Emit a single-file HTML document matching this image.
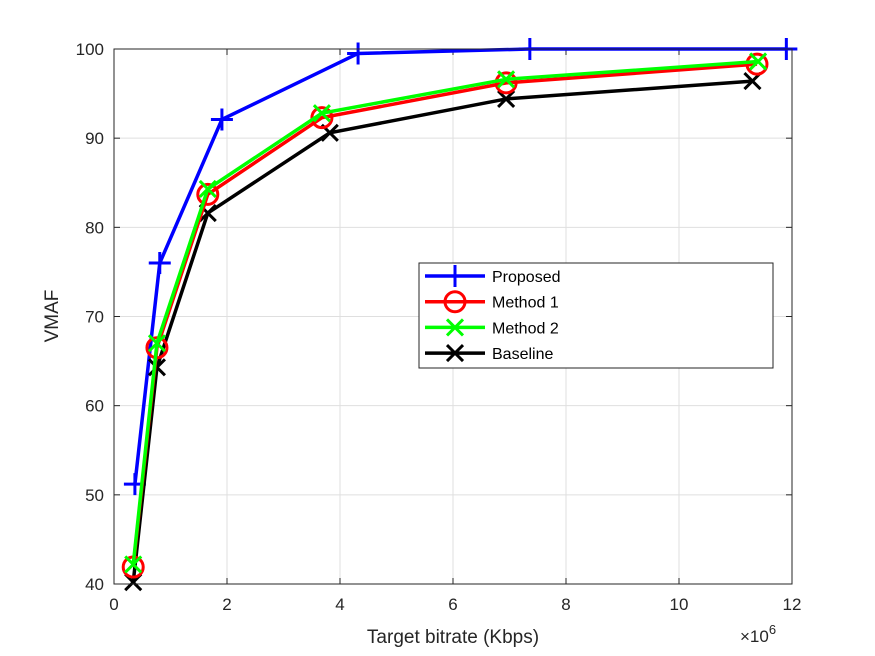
<!DOCTYPE html>
<html><head><meta charset="utf-8"><style>
body{margin:0;background:#fff;}
svg{display:block;font-family:"Liberation Sans",sans-serif;}
</style></head><body>
<svg id="chart" width="875" height="656">
<rect x="0" y="0" width="875" height="656" fill="#fff"/>
<g id="grid"></g>
<g id="ticks"></g>
<g id="series"></g>
<rect x="114" y="49" width="678" height="535" fill="none" stroke="#262626" stroke-width="1"/>
<text x="453" y="643" font-size="19" fill="#262626" text-anchor="middle">Target bitrate (Kbps)</text>
<text transform="translate(58,316) rotate(-90)" font-size="19" fill="#262626" text-anchor="middle">VMAF</text>
<text x="740" y="642" font-size="17" fill="#262626">×10<tspan dy="-8" font-size="13">6</tspan></text>
<g>
<rect x="419" y="263" width="354" height="105" fill="#fff" stroke="#262626" stroke-width="1"/>
<g id="legend-entries"></g>
</g>
</svg>
<script>
const xTicks=[0,2,4,6,8,10,12];
const yTicks=[40,50,60,70,80,90,100];
const seriesNames=["Proposed","Method 1","Method 2","Baseline"];
const xProposed=[0.37,0.81,1.91,4.32,7.36,11.9];
const yProposed=[51.2,76.0,92.1,99.5,100,100];
const xMethod1=[0.34,0.76,1.66,3.68,6.94,11.38];
const yMethod1=[41.9,66.5,83.7,92.3,96.2,98.3];
const xMethod2=[0.34,0.76,1.66,3.68,6.94,11.4];
const yMethod2=[42.2,67.0,84.3,92.8,96.6,98.6];
const xBaseline=[0.34,0.76,1.66,3.82,6.94,11.3];
const yBaseline=[40.2,64.3,81.6,90.6,94.4,96.4];

const NS="http://www.w3.org/2000/svg";
const X=v=>114+v*(678/12);
const Y=v=>584-(v-40)*(535/60);
function mk(tag,attrs,parent){const e=document.createElementNS(NS,tag);for(const k in attrs)e.setAttribute(k,attrs[k]);parent.appendChild(e);return e;}
const grid=document.getElementById('grid'),ticks=document.getElementById('ticks'),series=document.getElementById('series');
xTicks.forEach(t=>{
  const l=mk('line',{x1:X(t),x2:X(t),y1:49,y2:584,stroke:'#dfdfdf','stroke-width':1},grid);
  
  
  mk('line',{x1:X(t),x2:X(t),y1:584,y2:578,stroke:'#262626'},ticks);
  mk('line',{x1:X(t),x2:X(t),y1:49,y2:55,stroke:'#262626'},ticks);
  const tx=mk('text',{x:X(t),y:610,'font-size':17,fill:'#262626','text-anchor':'middle'},ticks);
  tx.textContent=t;
  
  
});
yTicks.forEach(t=>{
  const l=mk('line',{x1:114,x2:792,y1:Y(t),y2:Y(t),stroke:'#dfdfdf','stroke-width':1},grid);
  
  
  mk('line',{x1:114,x2:120,y1:Y(t),y2:Y(t),stroke:'#262626'},ticks);
  mk('line',{x1:786,x2:792,y1:Y(t),y2:Y(t),stroke:'#262626'},ticks);
  const tx=mk('text',{x:104,y:Y(t)+6,'font-size':17,fill:'#262626','text-anchor':'end'},ticks);
  tx.textContent=t;
  
  
});
function marker(type,cx,cy,color,g){
  if(type==='plus'){mk('path',{d:`M${cx-11},${cy}H${cx+11}M${cx},${cy-11}V${cy+11}`,stroke:color,'stroke-width':3,fill:'none'},g);}
  else if(type==='circle'){mk('circle',{cx:cx,cy:cy,r:10,stroke:color,'stroke-width':3,fill:'none'},g);}
  else {mk('path',{d:`M${cx-8},${cy-8}L${cx+8},${cy+8}M${cx-8},${cy+8}L${cx+8},${cy-8}`,stroke:color,'stroke-width':3,fill:'none'},g);}
}
const defs=[
 {name:'proposed',xs:xProposed,ys:yProposed,color:'#0000ff',m:'plus'},
 {name:'baseline',xs:xBaseline,ys:yBaseline,color:'#000000',m:'x'},
 {name:'method-1',xs:xMethod1,ys:yMethod1,color:'#ff0000',m:'circle'},
 {name:'method-2',xs:xMethod2,ys:yMethod2,color:'#00ff00',m:'x'}
];
defs.forEach(s=>{
  const g=mk('g',{},series);
  
  
  const pts=s.xs.map((v,i)=>X(v)+','+Y(s.ys[i])).join(' ');
  mk('polyline',{points:pts,fill:'none',stroke:s.color,'stroke-width':3.5},g);
  s.xs.forEach((v,i)=>marker(s.m,X(v),Y(s.ys[i]),s.color,g));
});
const leg=document.getElementById('legend-entries');
const legStyle=[['#0000ff','plus'],['#ff0000','circle'],['#00ff00','x'],['#000000','x']];
seriesNames.forEach((n,i)=>{
  const y=276+i*25.7;
  const g=mk('g',{},leg);
  
  
  mk('line',{x1:425,x2:485,y1:y,y2:y,stroke:legStyle[i][0],'stroke-width':3.5},g);
  marker(legStyle[i][1],455,y,legStyle[i][0],g);
  const t=mk('text',{x:492,y:y+6,'font-size':16,fill:'#000'},g);
  t.textContent=n;
});
</script>
</body></html>
